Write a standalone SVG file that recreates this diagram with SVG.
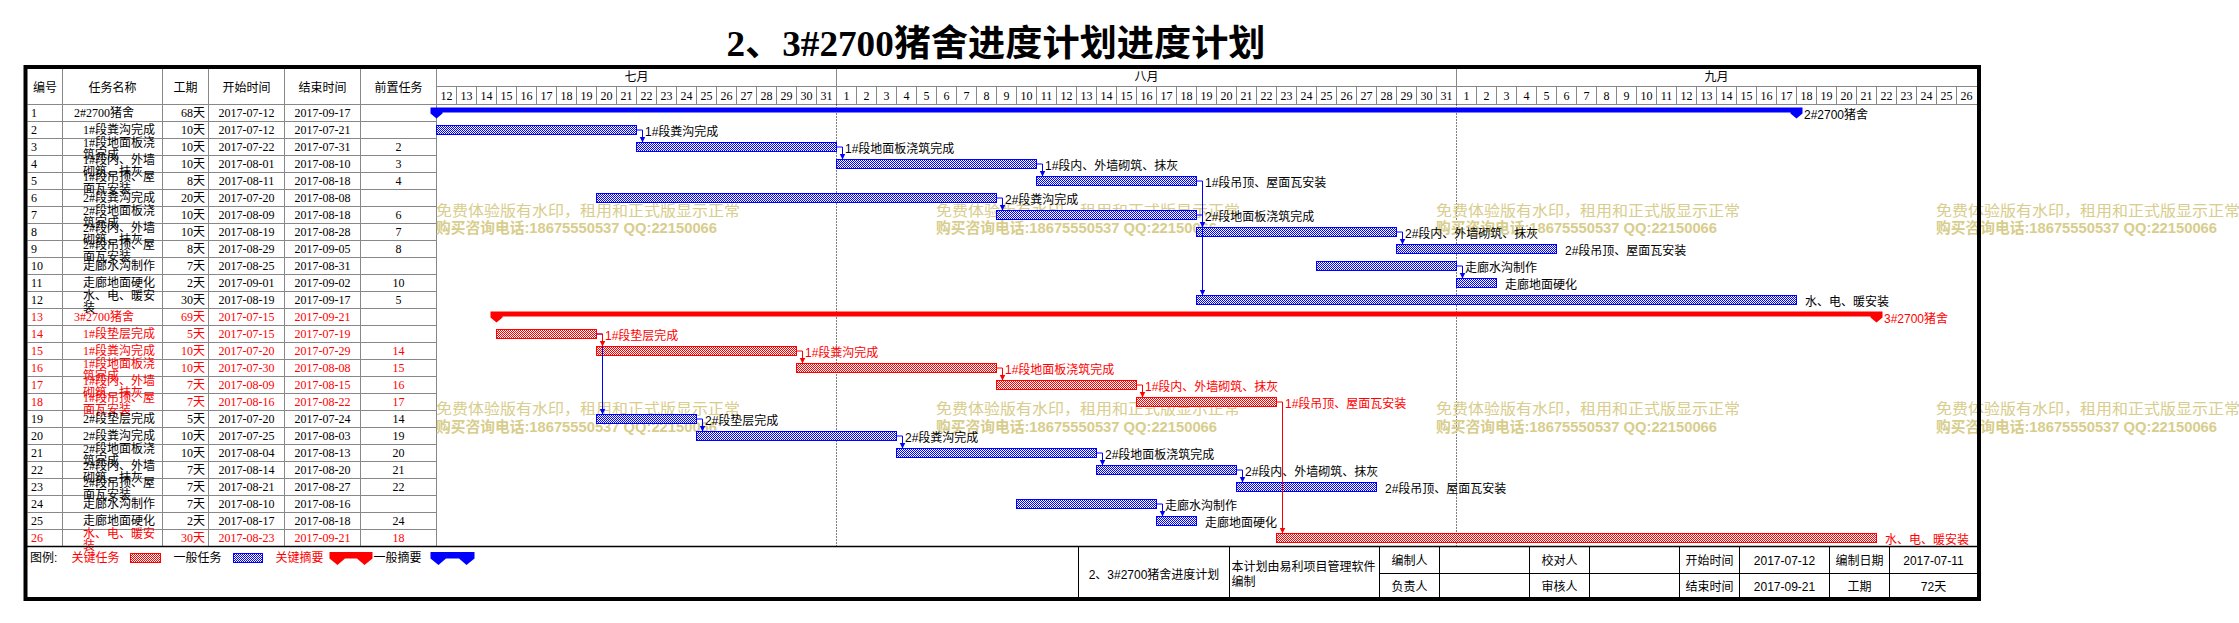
<svg xmlns="http://www.w3.org/2000/svg" width="2239" height="623" viewBox="0 0 2239 623">
<defs>
<pattern id="hb" width="2" height="2" patternUnits="userSpaceOnUse"><rect width="2" height="2" fill="#fff"/><rect width="1" height="1" fill="#00f"/><rect x="1" y="1" width="1" height="1" fill="#00f"/></pattern>
<pattern id="hr" width="2" height="2" patternUnits="userSpaceOnUse"><rect width="2" height="2" fill="#fff"/><rect width="1" height="1" fill="#f00"/><rect x="1" y="1" width="1" height="1" fill="#f00"/></pattern>
<marker id="ab" markerUnits="userSpaceOnUse" markerWidth="7" markerHeight="7" refX="6" refY="3" orient="auto"><path d="M0,0 L6,3 L0,6 Z" fill="#00f"/></marker>
<marker id="ar" markerUnits="userSpaceOnUse" markerWidth="7" markerHeight="7" refX="6" refY="3" orient="auto"><path d="M0,0 L6,3 L0,6 Z" fill="#f00"/></marker>
</defs>
<style>
.t{font-family:"Liberation Serif","Noto Sans CJK SC",serif;font-size:12px;fill:#000}
.s{font-family:"Liberation Sans","Noto Sans CJK SC",sans-serif;font-size:12px;fill:#000}
.r{fill:#f00}
.c{text-anchor:middle}
.e{text-anchor:end}
.g{stroke:#888;stroke-width:1;fill:none}
.k{stroke:#000;stroke-width:1;fill:none}
.bb{fill:url(#hb);stroke:#00f;stroke-width:1}
.br{fill:url(#hr);stroke:#f00;stroke-width:1}
.sb{fill:#00f}
.sr{fill:#f00}
.cb{stroke:#00f;stroke-width:1;fill:none;marker-end:url(#ab)}
.cr{stroke:#f00;stroke-width:1;fill:none;marker-end:url(#ar)}
.wm{font-family:"Liberation Sans","Noto Sans CJK SC",sans-serif;font-size:15px;fill:#D8CD8C}
.dot{stroke:#000;stroke-width:1;stroke-dasharray:1 2;fill:none}
</style>
<rect width="2239" height="623" fill="#fff"/>
<text x="726.5" y="55.5" textLength="539" lengthAdjust="spacingAndGlyphs" style="font-family:'Liberation Serif','Noto Sans CJK SC',serif;font-size:36px;font-weight:bold;fill:#000">2、3#2700猪舍进度计划进度计划</text>

<g id="grid">
<path class="g" d="M62.5 69V546.5M162.5 69V546.5M208.5 69V546.5M284.5 69V546.5M360.5 69V546.5M436.5 69V546.5M836.5 69V104.5M1456.5 69V104.5"/>
<path class="g" d="M436.5 86.5H1977M27.5 104.5H1977"/>
<path class="g" d="M456.5 86.5v18M476.5 86.5v18M496.5 86.5v18M516.5 86.5v18M536.5 86.5v18M556.5 86.5v18M576.5 86.5v18M596.5 86.5v18M616.5 86.5v18M636.5 86.5v18M656.5 86.5v18M676.5 86.5v18M696.5 86.5v18M716.5 86.5v18M736.5 86.5v18M756.5 86.5v18M776.5 86.5v18M796.5 86.5v18M816.5 86.5v18M856.5 86.5v18M876.5 86.5v18M896.5 86.5v18M916.5 86.5v18M936.5 86.5v18M956.5 86.5v18M976.5 86.5v18M996.5 86.5v18M1016.5 86.5v18M1036.5 86.5v18M1056.5 86.5v18M1076.5 86.5v18M1096.5 86.5v18M1116.5 86.5v18M1136.5 86.5v18M1156.5 86.5v18M1176.5 86.5v18M1196.5 86.5v18M1216.5 86.5v18M1236.5 86.5v18M1256.5 86.5v18M1276.5 86.5v18M1296.5 86.5v18M1316.5 86.5v18M1336.5 86.5v18M1356.5 86.5v18M1376.5 86.5v18M1396.5 86.5v18M1416.5 86.5v18M1436.5 86.5v18M1476.5 86.5v18M1496.5 86.5v18M1516.5 86.5v18M1536.5 86.5v18M1556.5 86.5v18M1576.5 86.5v18M1596.5 86.5v18M1616.5 86.5v18M1636.5 86.5v18M1656.5 86.5v18M1676.5 86.5v18M1696.5 86.5v18M1716.5 86.5v18M1736.5 86.5v18M1756.5 86.5v18M1776.5 86.5v18M1796.5 86.5v18M1816.5 86.5v18M1836.5 86.5v18M1856.5 86.5v18M1876.5 86.5v18M1896.5 86.5v18M1916.5 86.5v18M1936.5 86.5v18M1956.5 86.5v18"/>
<path class="g" d="M27.5 121.5H436.5M27.5 138.5H436.5M27.5 155.5H436.5M27.5 172.5H436.5M27.5 189.5H436.5M27.5 206.5H436.5M27.5 223.5H436.5M27.5 240.5H436.5M27.5 257.5H436.5M27.5 274.5H436.5M27.5 291.5H436.5M27.5 308.5H436.5M27.5 325.5H436.5M27.5 342.5H436.5M27.5 359.5H436.5M27.5 376.5H436.5M27.5 393.5H436.5M27.5 410.5H436.5M27.5 427.5H436.5M27.5 444.5H436.5M27.5 461.5H436.5M27.5 478.5H436.5M27.5 495.5H436.5M27.5 512.5H436.5M27.5 529.5H436.5"/>
<path class="dot" d="M836.5 104.5V546.5M1456.5 104.5V546.5"/>
</g>

<g id="header">
<text class="t c" y="91.5"><tspan x="45">编号</tspan><tspan x="112.5">任务名称</tspan><tspan x="185.5">工期</tspan><tspan x="246.5">开始时间</tspan><tspan x="322.5">结束时间</tspan><tspan x="398.5">前置任务</tspan></text>
<text class="t c" y="81"><tspan x="636.5">七月</tspan><tspan x="1146.5">八月</tspan><tspan x="1716.5">九月</tspan></text>
<text class="t c" y="99.5"><tspan x="446.5">12</tspan><tspan x="466.5">13</tspan><tspan x="486.5">14</tspan><tspan x="506.5">15</tspan><tspan x="526.5">16</tspan><tspan x="546.5">17</tspan><tspan x="566.5">18</tspan><tspan x="586.5">19</tspan><tspan x="606.5">20</tspan><tspan x="626.5">21</tspan><tspan x="646.5">22</tspan><tspan x="666.5">23</tspan><tspan x="686.5">24</tspan><tspan x="706.5">25</tspan><tspan x="726.5">26</tspan><tspan x="746.5">27</tspan><tspan x="766.5">28</tspan><tspan x="786.5">29</tspan><tspan x="806.5">30</tspan><tspan x="826.5">31</tspan><tspan x="846.5">1</tspan><tspan x="866.5">2</tspan><tspan x="886.5">3</tspan><tspan x="906.5">4</tspan><tspan x="926.5">5</tspan><tspan x="946.5">6</tspan><tspan x="966.5">7</tspan><tspan x="986.5">8</tspan><tspan x="1006.5">9</tspan><tspan x="1026.5">10</tspan><tspan x="1046.5">11</tspan><tspan x="1066.5">12</tspan><tspan x="1086.5">13</tspan><tspan x="1106.5">14</tspan><tspan x="1126.5">15</tspan><tspan x="1146.5">16</tspan><tspan x="1166.5">17</tspan><tspan x="1186.5">18</tspan><tspan x="1206.5">19</tspan><tspan x="1226.5">20</tspan><tspan x="1246.5">21</tspan><tspan x="1266.5">22</tspan><tspan x="1286.5">23</tspan><tspan x="1306.5">24</tspan><tspan x="1326.5">25</tspan><tspan x="1346.5">26</tspan><tspan x="1366.5">27</tspan><tspan x="1386.5">28</tspan><tspan x="1406.5">29</tspan><tspan x="1426.5">30</tspan><tspan x="1446.5">31</tspan><tspan x="1466.5">1</tspan><tspan x="1486.5">2</tspan><tspan x="1506.5">3</tspan><tspan x="1526.5">4</tspan><tspan x="1546.5">5</tspan><tspan x="1566.5">6</tspan><tspan x="1586.5">7</tspan><tspan x="1606.5">8</tspan><tspan x="1626.5">9</tspan><tspan x="1646.5">10</tspan><tspan x="1666.5">11</tspan><tspan x="1686.5">12</tspan><tspan x="1706.5">13</tspan><tspan x="1726.5">14</tspan><tspan x="1746.5">15</tspan><tspan x="1766.5">16</tspan><tspan x="1786.5">17</tspan><tspan x="1806.5">18</tspan><tspan x="1826.5">19</tspan><tspan x="1846.5">20</tspan><tspan x="1866.5">21</tspan><tspan x="1886.5">22</tspan><tspan x="1906.5">23</tspan><tspan x="1926.5">24</tspan><tspan x="1946.5">25</tspan><tspan x="1966.5">26</tspan></text>
</g>

<g id="watermarks">
<text class="wm" x="436" y="215.5" textLength="304" lengthAdjust="spacingAndGlyphs">免费体验版有水印，租用和正式版显示正常</text>
<text class="wm" x="436" y="233" textLength="281" lengthAdjust="spacingAndGlyphs" font-weight="bold">购买咨询电话:18675550537 QQ:22150066</text>
<text class="wm" x="936" y="215.5" textLength="304" lengthAdjust="spacingAndGlyphs">免费体验版有水印，租用和正式版显示正常</text>
<text class="wm" x="936" y="233" textLength="281" lengthAdjust="spacingAndGlyphs" font-weight="bold">购买咨询电话:18675550537 QQ:22150066</text>
<text class="wm" x="1436" y="215.5" textLength="304" lengthAdjust="spacingAndGlyphs">免费体验版有水印，租用和正式版显示正常</text>
<text class="wm" x="1436" y="233" textLength="281" lengthAdjust="spacingAndGlyphs" font-weight="bold">购买咨询电话:18675550537 QQ:22150066</text>
<text class="wm" x="1936" y="215.5" textLength="304" lengthAdjust="spacingAndGlyphs">免费体验版有水印，租用和正式版显示正常</text>
<text class="wm" x="1936" y="233" textLength="281" lengthAdjust="spacingAndGlyphs" font-weight="bold">购买咨询电话:18675550537 QQ:22150066</text>
<text class="wm" x="436" y="413.5" textLength="304" lengthAdjust="spacingAndGlyphs">免费体验版有水印，租用和正式版显示正常</text>
<text class="wm" x="436" y="431.5" textLength="281" lengthAdjust="spacingAndGlyphs" font-weight="bold">购买咨询电话:18675550537 QQ:22150066</text>
<text class="wm" x="936" y="413.5" textLength="304" lengthAdjust="spacingAndGlyphs">免费体验版有水印，租用和正式版显示正常</text>
<text class="wm" x="936" y="431.5" textLength="281" lengthAdjust="spacingAndGlyphs" font-weight="bold">购买咨询电话:18675550537 QQ:22150066</text>
<text class="wm" x="1436" y="413.5" textLength="304" lengthAdjust="spacingAndGlyphs">免费体验版有水印，租用和正式版显示正常</text>
<text class="wm" x="1436" y="431.5" textLength="281" lengthAdjust="spacingAndGlyphs" font-weight="bold">购买咨询电话:18675550537 QQ:22150066</text>
<text class="wm" x="1936" y="413.5" textLength="304" lengthAdjust="spacingAndGlyphs">免费体验版有水印，租用和正式版显示正常</text>
<text class="wm" x="1936" y="431.5" textLength="281" lengthAdjust="spacingAndGlyphs" font-weight="bold">购买咨询电话:18675550537 QQ:22150066</text>
</g>

<g id="task-1">
<text class="t" y="117"><tspan x="31">1</tspan><tspan x="74">2#2700猪舍</tspan><tspan x="205" class="e">68天</tspan><tspan x="246.5" class="c">2017-07-12</tspan><tspan x="322.5" class="c">2017-09-17</tspan></text>
<path class="sb" d="M430.5,107.5 H1802.5 V113.5 L1796.5,118.5 L1790.5,113.5 V112.5 H442.5 V113.5 L436.5,118.5 L430.5,113.5 Z"/>
<text class="s" x="1804" y="119">2#2700猪舍</text>
</g>
<g id="task-2">
<text class="t" y="134"><tspan x="31">2</tspan><tspan x="83">1#段粪沟完成</tspan><tspan x="205" class="e">10天</tspan><tspan x="246.5" class="c">2017-07-12</tspan><tspan x="322.5" class="c">2017-07-21</tspan></text>
<rect class="bb" x="436.5" y="125.5" width="200" height="9"/>
<text class="s" x="645" y="135.5">1#段粪沟完成</text>
</g>
<g id="task-3">
<text class="t" y="151"><tspan x="31">3</tspan><tspan x="205" class="e">10天</tspan><tspan x="246.5" class="c">2017-07-22</tspan><tspan x="322.5" class="c">2017-07-31</tspan><tspan x="398.5" class="c">2</tspan></text>
<text class="t"><tspan x="83" y="147">1#段地面板浇</tspan><tspan x="83" y="158.5">筑完成</tspan></text>
<rect class="bb" x="636.5" y="142.5" width="200" height="9"/>
<text class="s" x="845" y="152.5">1#段地面板浇筑完成</text>
</g>
<g id="task-4">
<text class="t" y="168"><tspan x="31">4</tspan><tspan x="205" class="e">10天</tspan><tspan x="246.5" class="c">2017-08-01</tspan><tspan x="322.5" class="c">2017-08-10</tspan><tspan x="398.5" class="c">3</tspan></text>
<text class="t"><tspan x="83" y="164">1#段内、外墙</tspan><tspan x="83" y="175.5">砌筑、抹灰</tspan></text>
<rect class="bb" x="836.5" y="159.5" width="200" height="9"/>
<text class="s" x="1045" y="169.5">1#段内、外墙砌筑、抹灰</text>
</g>
<g id="task-5">
<text class="t" y="185"><tspan x="31">5</tspan><tspan x="205" class="e">8天</tspan><tspan x="246.5" class="c">2017-08-11</tspan><tspan x="322.5" class="c">2017-08-18</tspan><tspan x="398.5" class="c">4</tspan></text>
<text class="t"><tspan x="83" y="181">1#段吊顶、屋</tspan><tspan x="83" y="192.5">面瓦安装</tspan></text>
<rect class="bb" x="1036.5" y="176.5" width="160" height="9"/>
<text class="s" x="1205" y="186.5">1#段吊顶、屋面瓦安装</text>
</g>
<g id="task-6">
<text class="t" y="202"><tspan x="31">6</tspan><tspan x="83">2#段粪沟完成</tspan><tspan x="205" class="e">20天</tspan><tspan x="246.5" class="c">2017-07-20</tspan><tspan x="322.5" class="c">2017-08-08</tspan></text>
<rect class="bb" x="596.5" y="193.5" width="400" height="9"/>
<text class="s" x="1005" y="203.5">2#段粪沟完成</text>
</g>
<g id="task-7">
<text class="t" y="219"><tspan x="31">7</tspan><tspan x="205" class="e">10天</tspan><tspan x="246.5" class="c">2017-08-09</tspan><tspan x="322.5" class="c">2017-08-18</tspan><tspan x="398.5" class="c">6</tspan></text>
<text class="t"><tspan x="83" y="215">2#段地面板浇</tspan><tspan x="83" y="226.5">筑完成</tspan></text>
<rect class="bb" x="996.5" y="210.5" width="200" height="9"/>
<text class="s" x="1205" y="220.5">2#段地面板浇筑完成</text>
</g>
<g id="task-8">
<text class="t" y="236"><tspan x="31">8</tspan><tspan x="205" class="e">10天</tspan><tspan x="246.5" class="c">2017-08-19</tspan><tspan x="322.5" class="c">2017-08-28</tspan><tspan x="398.5" class="c">7</tspan></text>
<text class="t"><tspan x="83" y="232">2#段内、外墙</tspan><tspan x="83" y="243.5">砌筑、抹灰</tspan></text>
<rect class="bb" x="1196.5" y="227.5" width="200" height="9"/>
<text class="s" x="1405" y="237.5">2#段内、外墙砌筑、抹灰</text>
</g>
<g id="task-9">
<text class="t" y="253"><tspan x="31">9</tspan><tspan x="205" class="e">8天</tspan><tspan x="246.5" class="c">2017-08-29</tspan><tspan x="322.5" class="c">2017-09-05</tspan><tspan x="398.5" class="c">8</tspan></text>
<text class="t"><tspan x="83" y="249">2#段吊顶、屋</tspan><tspan x="83" y="260.5">面瓦安装</tspan></text>
<rect class="bb" x="1396.5" y="244.5" width="160" height="9"/>
<text class="s" x="1565" y="254.5">2#段吊顶、屋面瓦安装</text>
</g>
<g id="task-10">
<text class="t" y="270"><tspan x="31">10</tspan><tspan x="83">走廊水沟制作</tspan><tspan x="205" class="e">7天</tspan><tspan x="246.5" class="c">2017-08-25</tspan><tspan x="322.5" class="c">2017-08-31</tspan></text>
<rect class="bb" x="1316.5" y="261.5" width="140" height="9"/>
<text class="s" x="1465" y="271.5">走廊水沟制作</text>
</g>
<g id="task-11">
<text class="t" y="287"><tspan x="31">11</tspan><tspan x="83">走廊地面硬化</tspan><tspan x="205" class="e">2天</tspan><tspan x="246.5" class="c">2017-09-01</tspan><tspan x="322.5" class="c">2017-09-02</tspan><tspan x="398.5" class="c">10</tspan></text>
<rect class="bb" x="1456.5" y="278.5" width="40" height="9"/>
<text class="s" x="1505" y="288.5">走廊地面硬化</text>
</g>
<g id="task-12">
<text class="t" y="304"><tspan x="31">12</tspan><tspan x="205" class="e">30天</tspan><tspan x="246.5" class="c">2017-08-19</tspan><tspan x="322.5" class="c">2017-09-17</tspan><tspan x="398.5" class="c">5</tspan></text>
<text class="t"><tspan x="83" y="300">水、电、暖安</tspan><tspan x="83" y="311.5">装</tspan></text>
<rect class="bb" x="1196.5" y="295.5" width="600" height="9"/>
<text class="s" x="1805" y="305.5">水、电、暖安装</text>
</g>
<g id="task-13">
<text class="t r" y="321"><tspan x="31">13</tspan><tspan x="74">3#2700猪舍</tspan><tspan x="205" class="e">69天</tspan><tspan x="246.5" class="c">2017-07-15</tspan><tspan x="322.5" class="c">2017-09-21</tspan></text>
<path class="sr" d="M490.5,311.5 H1882.5 V317.5 L1876.5,322.5 L1870.5,317.5 V316.5 H502.5 V317.5 L496.5,322.5 L490.5,317.5 Z"/>
<text class="s r" x="1884" y="323">3#2700猪舍</text>
</g>
<g id="task-14">
<text class="t r" y="338"><tspan x="31">14</tspan><tspan x="83">1#段垫层完成</tspan><tspan x="205" class="e">5天</tspan><tspan x="246.5" class="c">2017-07-15</tspan><tspan x="322.5" class="c">2017-07-19</tspan></text>
<rect class="br" x="496.5" y="329.5" width="100" height="9"/>
<text class="s r" x="605" y="339.5">1#段垫层完成</text>
</g>
<g id="task-15">
<text class="t r" y="355"><tspan x="31">15</tspan><tspan x="83">1#段粪沟完成</tspan><tspan x="205" class="e">10天</tspan><tspan x="246.5" class="c">2017-07-20</tspan><tspan x="322.5" class="c">2017-07-29</tspan><tspan x="398.5" class="c">14</tspan></text>
<rect class="br" x="596.5" y="346.5" width="200" height="9"/>
<text class="s r" x="805" y="356.5">1#段粪沟完成</text>
</g>
<g id="task-16">
<text class="t r" y="372"><tspan x="31">16</tspan><tspan x="205" class="e">10天</tspan><tspan x="246.5" class="c">2017-07-30</tspan><tspan x="322.5" class="c">2017-08-08</tspan><tspan x="398.5" class="c">15</tspan></text>
<text class="t r"><tspan x="83" y="368">1#段地面板浇</tspan><tspan x="83" y="379.5">筑完成</tspan></text>
<rect class="br" x="796.5" y="363.5" width="200" height="9"/>
<text class="s r" x="1005" y="373.5">1#段地面板浇筑完成</text>
</g>
<g id="task-17">
<text class="t r" y="389"><tspan x="31">17</tspan><tspan x="205" class="e">7天</tspan><tspan x="246.5" class="c">2017-08-09</tspan><tspan x="322.5" class="c">2017-08-15</tspan><tspan x="398.5" class="c">16</tspan></text>
<text class="t r"><tspan x="83" y="385">1#段内、外墙</tspan><tspan x="83" y="396.5">砌筑、抹灰</tspan></text>
<rect class="br" x="996.5" y="380.5" width="140" height="9"/>
<text class="s r" x="1145" y="390.5">1#段内、外墙砌筑、抹灰</text>
</g>
<g id="task-18">
<text class="t r" y="406"><tspan x="31">18</tspan><tspan x="205" class="e">7天</tspan><tspan x="246.5" class="c">2017-08-16</tspan><tspan x="322.5" class="c">2017-08-22</tspan><tspan x="398.5" class="c">17</tspan></text>
<text class="t r"><tspan x="83" y="402">1#段吊顶、屋</tspan><tspan x="83" y="413.5">面瓦安装</tspan></text>
<rect class="br" x="1136.5" y="397.5" width="140" height="9"/>
<text class="s r" x="1285" y="407.5">1#段吊顶、屋面瓦安装</text>
</g>
<g id="task-19">
<text class="t" y="423"><tspan x="31">19</tspan><tspan x="83">2#段垫层完成</tspan><tspan x="205" class="e">5天</tspan><tspan x="246.5" class="c">2017-07-20</tspan><tspan x="322.5" class="c">2017-07-24</tspan><tspan x="398.5" class="c">14</tspan></text>
<rect class="bb" x="596.5" y="414.5" width="100" height="9"/>
<text class="s" x="705" y="424.5">2#段垫层完成</text>
</g>
<g id="task-20">
<text class="t" y="440"><tspan x="31">20</tspan><tspan x="83">2#段粪沟完成</tspan><tspan x="205" class="e">10天</tspan><tspan x="246.5" class="c">2017-07-25</tspan><tspan x="322.5" class="c">2017-08-03</tspan><tspan x="398.5" class="c">19</tspan></text>
<rect class="bb" x="696.5" y="431.5" width="200" height="9"/>
<text class="s" x="905" y="441.5">2#段粪沟完成</text>
</g>
<g id="task-21">
<text class="t" y="457"><tspan x="31">21</tspan><tspan x="205" class="e">10天</tspan><tspan x="246.5" class="c">2017-08-04</tspan><tspan x="322.5" class="c">2017-08-13</tspan><tspan x="398.5" class="c">20</tspan></text>
<text class="t"><tspan x="83" y="453">2#段地面板浇</tspan><tspan x="83" y="464.5">筑完成</tspan></text>
<rect class="bb" x="896.5" y="448.5" width="200" height="9"/>
<text class="s" x="1105" y="458.5">2#段地面板浇筑完成</text>
</g>
<g id="task-22">
<text class="t" y="474"><tspan x="31">22</tspan><tspan x="205" class="e">7天</tspan><tspan x="246.5" class="c">2017-08-14</tspan><tspan x="322.5" class="c">2017-08-20</tspan><tspan x="398.5" class="c">21</tspan></text>
<text class="t"><tspan x="83" y="470">2#段内、外墙</tspan><tspan x="83" y="481.5">砌筑、抹灰</tspan></text>
<rect class="bb" x="1096.5" y="465.5" width="140" height="9"/>
<text class="s" x="1245" y="475.5">2#段内、外墙砌筑、抹灰</text>
</g>
<g id="task-23">
<text class="t" y="491"><tspan x="31">23</tspan><tspan x="205" class="e">7天</tspan><tspan x="246.5" class="c">2017-08-21</tspan><tspan x="322.5" class="c">2017-08-27</tspan><tspan x="398.5" class="c">22</tspan></text>
<text class="t"><tspan x="83" y="487">2#段吊顶、屋</tspan><tspan x="83" y="498.5">面瓦安装</tspan></text>
<rect class="bb" x="1236.5" y="482.5" width="140" height="9"/>
<text class="s" x="1385" y="492.5">2#段吊顶、屋面瓦安装</text>
</g>
<g id="task-24">
<text class="t" y="508"><tspan x="31">24</tspan><tspan x="83">走廊水沟制作</tspan><tspan x="205" class="e">7天</tspan><tspan x="246.5" class="c">2017-08-10</tspan><tspan x="322.5" class="c">2017-08-16</tspan></text>
<rect class="bb" x="1016.5" y="499.5" width="140" height="9"/>
<text class="s" x="1165" y="509.5">走廊水沟制作</text>
</g>
<g id="task-25">
<text class="t" y="525"><tspan x="31">25</tspan><tspan x="83">走廊地面硬化</tspan><tspan x="205" class="e">2天</tspan><tspan x="246.5" class="c">2017-08-17</tspan><tspan x="322.5" class="c">2017-08-18</tspan><tspan x="398.5" class="c">24</tspan></text>
<rect class="bb" x="1156.5" y="516.5" width="40" height="9"/>
<text class="s" x="1205" y="526.5">走廊地面硬化</text>
</g>
<g id="task-26">
<text class="t r" y="542"><tspan x="31">26</tspan><tspan x="205" class="e">30天</tspan><tspan x="246.5" class="c">2017-08-23</tspan><tspan x="322.5" class="c">2017-09-21</tspan><tspan x="398.5" class="c">18</tspan></text>
<text class="t r"><tspan x="83" y="538">水、电、暖安</tspan><tspan x="83" y="549.5">装</tspan></text>
<rect class="br" x="1276.5" y="533.5" width="600" height="9"/>
<text class="s r" x="1885" y="543.5">水、电、暖安装</text>
</g>

<g id="connectors">
<path class="cb" d="M636.5,130 H642.5 V142.5"/>
<path class="cb" d="M836.5,147 H842.5 V159.5"/>
<path class="cb" d="M1036.5,164 H1042.5 V176.5"/>
<path class="cb" d="M1196.5,181 H1202.5 V295.5"/>
<path class="cb" d="M996.5,198 H1002.5 V210.5"/>
<path class="cb" d="M1196.5,215 H1202.5 V227.5"/>
<path class="cb" d="M1396.5,232 H1402.5 V244.5"/>
<path class="cb" d="M1456.5,266 H1462.5 V278.5"/>
<path class="cb" d="M596.5,334 H602.5 V414.5"/>
<path class="cb" d="M696.5,419 H702.5 V431.5"/>
<path class="cb" d="M896.5,436 H902.5 V448.5"/>
<path class="cb" d="M1096.5,453 H1102.5 V465.5"/>
<path class="cb" d="M1236.5,470 H1242.5 V482.5"/>
<path class="cb" d="M1156.5,504 H1162.5 V516.5"/>
<path class="cr" d="M596.5,334 H602.5 V346.5"/>
<path class="cr" d="M796.5,351 H802.5 V363.5"/>
<path class="cr" d="M996.5,368 H1002.5 V380.5"/>
<path class="cr" d="M1136.5,385 H1142.5 V397.5"/>
<path class="cr" d="M1276.5,402 H1282.5 V533.5"/>
</g>

<g id="footer">
<path d="M27 546.5H1977" stroke="#000" stroke-width="1.5" fill="none"/>
<path class="k" d="M1078.5 546.5V597M1229.5 546.5V597M1379.5 546.5V597M1439.5 546.5V597M1529.5 546.5V597M1589.5 546.5V597M1679.5 546.5V597M1739.5 546.5V597M1829.5 546.5V597M1889.5 546.5V597M1379.5 573.5H1977"/>
<text class="s" x="30" y="562">图例:</text>
<text class="s r" x="71.5" y="562">关键任务</text>
<rect class="br" x="130.5" y="553.5" width="30" height="9"/>
<text class="s" x="173.5" y="562">一般任务</text>
<rect class="bb" x="233.5" y="553.5" width="29" height="9"/>
<text class="s r" x="275.5" y="562">关键摘要</text>
<path class="sr" d="M329.5,552 H372.5 V558.5 L364.5,565 L357,558.5 H345 L337.5,565 L329.5,558.5 Z"/>
<text class="s" x="373.5" y="562">一般摘要</text>
<path class="sb" d="M430.5,552 H474.5 V558.5 L466.5,565 L459,558.5 H446 L438.5,565 L430.5,558.5 Z"/>
<text class="s c" x="1154" y="578.5">2、3#2700猪舍进度计划</text>
<text class="s"><tspan x="1231.5" y="571">本计划由易利项目管理软件</tspan><tspan x="1231.5" y="586">编制</tspan></text>
<text class="s c" y="564.5"><tspan x="1409.5">编制人</tspan><tspan x="1559.5">校对人</tspan><tspan x="1709.5">开始时间</tspan><tspan x="1784.5">2017-07-12</tspan><tspan x="1859.5">编制日期</tspan><tspan x="1933.5">2017-07-11</tspan></text>
<text class="s c" y="590.5"><tspan x="1409.5">负责人</tspan><tspan x="1559.5">审核人</tspan><tspan x="1709.5">结束时间</tspan><tspan x="1784.5">2017-09-21</tspan><tspan x="1859.5">工期</tspan><tspan x="1933.5">72天</tspan></text>
</g>

<rect x="25.5" y="67" width="1953.5" height="532" fill="none" stroke="#000" stroke-width="4"/>
</svg>
